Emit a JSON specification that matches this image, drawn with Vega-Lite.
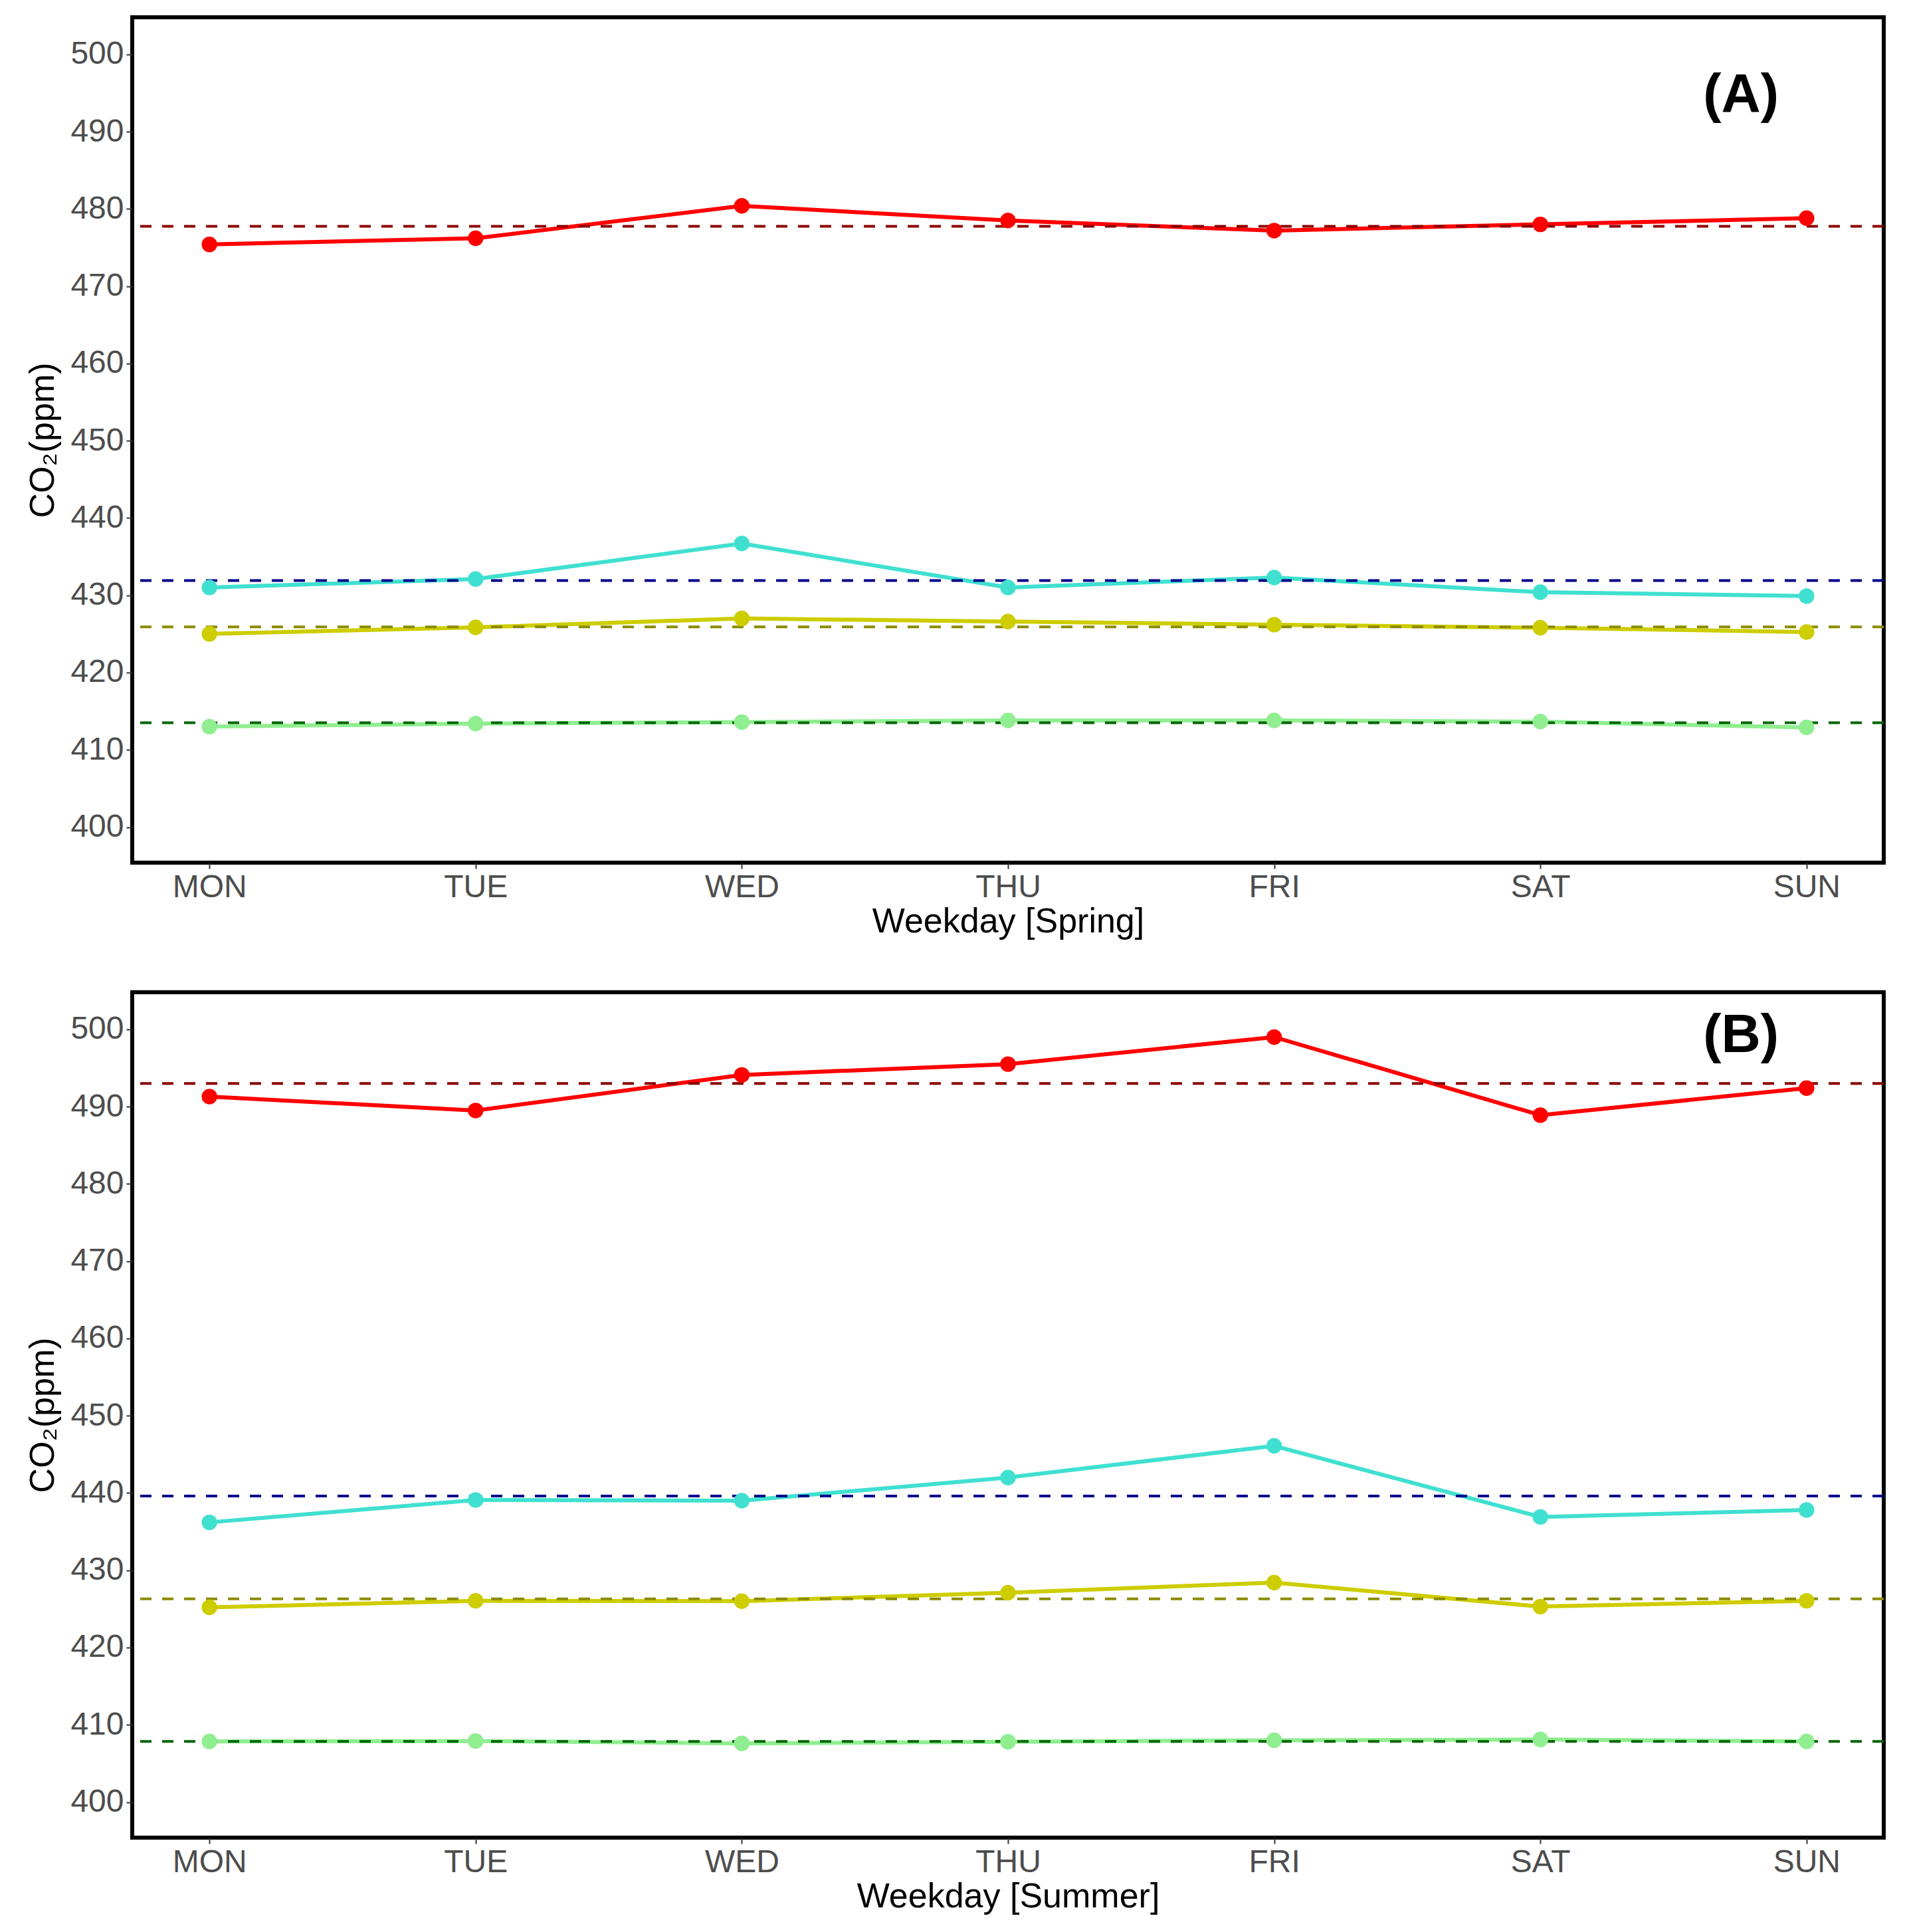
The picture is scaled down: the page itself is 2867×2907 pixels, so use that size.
{
  "$schema": "https://vega.github.io/schema/vega-lite/v6.json",
  "autosize": {"type": "pad"},
  "padding": {"left": 35, "top": 23, "right": 5, "bottom": 5},
  "background": "white",
  "datasets": {
    "obs": [
      {"season": "Spring", "day": "MON", "series": "Site 1", "co2": 475.4},
      {"season": "Spring", "day": "TUE", "series": "Site 1", "co2": 476.2},
      {"season": "Spring", "day": "WED", "series": "Site 1", "co2": 480.4},
      {"season": "Spring", "day": "THU", "series": "Site 1", "co2": 478.5},
      {"season": "Spring", "day": "FRI", "series": "Site 1", "co2": 477.2},
      {"season": "Spring", "day": "SAT", "series": "Site 1", "co2": 478.0},
      {"season": "Spring", "day": "SUN", "series": "Site 1", "co2": 478.8},
      {"season": "Spring", "day": "MON", "series": "Site 2", "co2": 431.0},
      {"season": "Spring", "day": "TUE", "series": "Site 2", "co2": 432.1},
      {"season": "Spring", "day": "WED", "series": "Site 2", "co2": 436.7},
      {"season": "Spring", "day": "THU", "series": "Site 2", "co2": 431.0},
      {"season": "Spring", "day": "FRI", "series": "Site 2", "co2": 432.3},
      {"season": "Spring", "day": "SAT", "series": "Site 2", "co2": 430.4},
      {"season": "Spring", "day": "SUN", "series": "Site 2", "co2": 429.9},
      {"season": "Spring", "day": "MON", "series": "Site 3", "co2": 425.0},
      {"season": "Spring", "day": "TUE", "series": "Site 3", "co2": 425.85},
      {"season": "Spring", "day": "WED", "series": "Site 3", "co2": 427.0},
      {"season": "Spring", "day": "THU", "series": "Site 3", "co2": 426.6},
      {"season": "Spring", "day": "FRI", "series": "Site 3", "co2": 426.2},
      {"season": "Spring", "day": "SAT", "series": "Site 3", "co2": 425.8},
      {"season": "Spring", "day": "SUN", "series": "Site 3", "co2": 425.25},
      {"season": "Spring", "day": "MON", "series": "Site 4", "co2": 413.0},
      {"season": "Spring", "day": "TUE", "series": "Site 4", "co2": 413.4},
      {"season": "Spring", "day": "WED", "series": "Site 4", "co2": 413.6},
      {"season": "Spring", "day": "THU", "series": "Site 4", "co2": 413.8},
      {"season": "Spring", "day": "FRI", "series": "Site 4", "co2": 413.8},
      {"season": "Spring", "day": "SAT", "series": "Site 4", "co2": 413.65},
      {"season": "Spring", "day": "SUN", "series": "Site 4", "co2": 412.9},
      {"season": "Summer", "day": "MON", "series": "Site 1", "co2": 491.3},
      {"season": "Summer", "day": "TUE", "series": "Site 1", "co2": 489.5},
      {"season": "Summer", "day": "WED", "series": "Site 1", "co2": 494.1},
      {"season": "Summer", "day": "THU", "series": "Site 1", "co2": 495.5},
      {"season": "Summer", "day": "FRI", "series": "Site 1", "co2": 499.0},
      {"season": "Summer", "day": "SAT", "series": "Site 1", "co2": 488.9},
      {"season": "Summer", "day": "SUN", "series": "Site 1", "co2": 492.4},
      {"season": "Summer", "day": "MON", "series": "Site 2", "co2": 436.2},
      {"season": "Summer", "day": "TUE", "series": "Site 2", "co2": 439.1},
      {"season": "Summer", "day": "WED", "series": "Site 2", "co2": 439.0},
      {"season": "Summer", "day": "THU", "series": "Site 2", "co2": 442.0},
      {"season": "Summer", "day": "FRI", "series": "Site 2", "co2": 446.1},
      {"season": "Summer", "day": "SAT", "series": "Site 2", "co2": 436.9},
      {"season": "Summer", "day": "SUN", "series": "Site 2", "co2": 437.8},
      {"season": "Summer", "day": "MON", "series": "Site 3", "co2": 425.2},
      {"season": "Summer", "day": "TUE", "series": "Site 3", "co2": 426.05},
      {"season": "Summer", "day": "WED", "series": "Site 3", "co2": 426.0},
      {"season": "Summer", "day": "THU", "series": "Site 3", "co2": 427.1},
      {"season": "Summer", "day": "FRI", "series": "Site 3", "co2": 428.4},
      {"season": "Summer", "day": "SAT", "series": "Site 3", "co2": 425.3},
      {"season": "Summer", "day": "SUN", "series": "Site 3", "co2": 426.05},
      {"season": "Summer", "day": "MON", "series": "Site 4", "co2": 407.85},
      {"season": "Summer", "day": "TUE", "series": "Site 4", "co2": 407.9},
      {"season": "Summer", "day": "WED", "series": "Site 4", "co2": 407.6},
      {"season": "Summer", "day": "THU", "series": "Site 4", "co2": 407.8},
      {"season": "Summer", "day": "FRI", "series": "Site 4", "co2": 408.0},
      {"season": "Summer", "day": "SAT", "series": "Site 4", "co2": 408.1},
      {"season": "Summer", "day": "SUN", "series": "Site 4", "co2": 407.85}
    ],
    "means": [
      {"season": "Spring", "series": "Site 1", "co2": 477.75},
      {"season": "Spring", "series": "Site 2", "co2": 431.9},
      {"season": "Spring", "series": "Site 3", "co2": 425.9},
      {"season": "Spring", "series": "Site 4", "co2": 413.5},
      {"season": "Summer", "series": "Site 1", "co2": 493.0},
      {"season": "Summer", "series": "Site 2", "co2": 439.6},
      {"season": "Summer", "series": "Site 3", "co2": 426.3},
      {"season": "Summer", "series": "Site 4", "co2": 407.85}
    ]
  },
  "spacing": 75,
  "vconcat": [
    {
      "width": 2636,
      "height": 1272,
      "title": {"text": "(A)", "anchor": "end", "frame": "group", "dx": -158, "dy": 224, "offset": 0, "baseline": "alphabetic"},
      "layer": [
        {
          "data": {"name": "obs"},
          "transform": [{"filter": "datum.season === 'Spring'"}],
          "mark": {"type": "line", "strokeWidth": 6},
          "encoding": {
            "x": {"field": "day", "type": "ordinal", "sort": ["MON", "TUE", "WED", "THU", "FRI", "SAT", "SUN"], "scale": {"type": "point", "padding": 0.29}, "axis": {"title": "Weekday [Spring]", "labelAngle": 0}},
            "y": {"field": "co2", "type": "quantitative", "scale": {"domain": [395.4, 504.8], "nice": false, "zero": false}, "axis": {"title": "CO₂(ppm)", "values": [400, 410, 420, 430, 440, 450, 460, 470, 480, 490, 500]}},
            "color": {"field": "series", "type": "nominal", "scale": {"domain": ["Site 1", "Site 2", "Site 3", "Site 4"], "range": ["#FF0000", "#40E0D0", "#CDCD00", "#90EE90"]}, "legend": null}
          }
        },
        {
          "data": {"name": "means"},
          "transform": [{"filter": "datum.season === 'Spring'"}],
          "mark": {"type": "rule", "strokeWidth": 4, "strokeDash": [17, 16]},
          "encoding": {
            "y": {"field": "co2", "type": "quantitative"},
            "color": {"field": "series", "type": "nominal", "scale": {"domain": ["Site 1", "Site 2", "Site 3", "Site 4"], "range": ["#8B0000", "#00008B", "#8B8B00", "#006400"]}, "legend": null}
          }
        },
        {
          "data": {"name": "obs"},
          "transform": [{"filter": "datum.season === 'Spring'"}],
          "mark": {"type": "point", "filled": true, "size": 550, "opacity": 1},
          "encoding": {
            "x": {"field": "day", "type": "ordinal", "sort": ["MON", "TUE", "WED", "THU", "FRI", "SAT", "SUN"]},
            "y": {"field": "co2", "type": "quantitative"},
            "color": {"field": "series", "type": "nominal", "scale": {"domain": ["Site 1", "Site 2", "Site 3", "Site 4"], "range": ["#FF0000", "#40E0D0", "#CDCD00", "#90EE90"]}, "legend": null}
          }
        }
      ],
      "resolve": {"scale": {"color": "independent"}}
    },
    {
      "width": 2636,
      "height": 1272,
      "title": {"text": "(B)", "anchor": "end", "frame": "group", "dx": -158, "dy": 172, "offset": 0, "baseline": "alphabetic"},
      "layer": [
        {
          "data": {"name": "obs"},
          "transform": [{"filter": "datum.season === 'Summer'"}],
          "mark": {"type": "line", "strokeWidth": 6},
          "encoding": {
            "x": {"field": "day", "type": "ordinal", "sort": ["MON", "TUE", "WED", "THU", "FRI", "SAT", "SUN"], "scale": {"type": "point", "padding": 0.29}, "axis": {"title": "Weekday [Summer]", "labelAngle": 0}},
            "y": {"field": "co2", "type": "quantitative", "scale": {"domain": [395.4, 504.8], "nice": false, "zero": false}, "axis": {"title": "CO₂(ppm)", "values": [400, 410, 420, 430, 440, 450, 460, 470, 480, 490, 500]}},
            "color": {"field": "series", "type": "nominal", "scale": {"domain": ["Site 1", "Site 2", "Site 3", "Site 4"], "range": ["#FF0000", "#40E0D0", "#CDCD00", "#90EE90"]}, "legend": null}
          }
        },
        {
          "data": {"name": "means"},
          "transform": [{"filter": "datum.season === 'Summer'"}],
          "mark": {"type": "rule", "strokeWidth": 4, "strokeDash": [17, 16]},
          "encoding": {
            "y": {"field": "co2", "type": "quantitative"},
            "color": {"field": "series", "type": "nominal", "scale": {"domain": ["Site 1", "Site 2", "Site 3", "Site 4"], "range": ["#8B0000", "#00008B", "#8B8B00", "#006400"]}, "legend": null}
          }
        },
        {
          "data": {"name": "obs"},
          "transform": [{"filter": "datum.season === 'Summer'"}],
          "mark": {"type": "point", "filled": true, "size": 550, "opacity": 1},
          "encoding": {
            "x": {"field": "day", "type": "ordinal", "sort": ["MON", "TUE", "WED", "THU", "FRI", "SAT", "SUN"]},
            "y": {"field": "co2", "type": "quantitative"},
            "color": {"field": "series", "type": "nominal", "scale": {"domain": ["Site 1", "Site 2", "Site 3", "Site 4"], "range": ["#FF0000", "#40E0D0", "#CDCD00", "#90EE90"]}, "legend": null}
          }
        }
      ],
      "resolve": {"scale": {"color": "independent"}}
    }
  ],
  "config": {
    "font": "Liberation Sans",
    "view": {"stroke": "black", "strokeWidth": 6},
    "axis": {
      "domain": false,
      "grid": false,
      "ticks": true,
      "tickColor": "#333333",
      "tickWidth": 2,
      "tickSize": 9,
      "labelFont": "Liberation Sans",
      "labelFontSize": 48,
      "labelColor": "#4D4D4D",
      "labelPadding": 4,
      "titleFont": "Liberation Sans",
      "titleFontSize": 52,
      "titleFontWeight": "normal",
      "titleColor": "black"
    },
    "axisX": {"titlePadding": 2},
    "axisY": {"titlePadding": 14},
    "title": {"font": "Liberation Sans", "fontSize": 82, "fontWeight": "bold", "color": "black"}
  }
}
